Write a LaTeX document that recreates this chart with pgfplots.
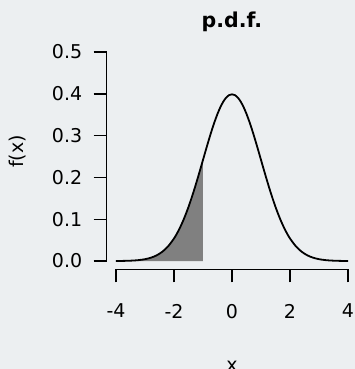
\documentclass[border=0pt]{standalone}
\usepackage{pgfplots}
\pgfplotsset{compat=1.18}
\usepackage{fontspec}
\setmainfont{DejaVu Sans}
\definecolor{bg}{HTML}{ECEFF1}
\begin{document}
\begin{tikzpicture}[x=1pt,y=1pt]
\fill[bg] (-5,-5) rectangle (359,374);
\begin{axis}[
  scale only axis, width=250.6pt, height=225.7pt,
  at={(106.7pt,99.6pt)}, anchor=south west,
  xmin=-4.32, xmax=4.32, ymin=-0.02, ymax=0.52,
  axis line style={draw=none},
  axis x line*=bottom, axis y line*=left,
  xtick={-4,-2,0,2,4}, ytick={0,0.1,0.2,0.3,0.4,0.5},
  yticklabel style={/pgf/number format/fixed,/pgf/number format/fixed zerofill,/pgf/number format/precision=1, anchor=east, xshift=-8pt},
  xticklabel style={yshift=-18pt},
  tick align=outside, major tick length=13pt,
  tick style={line width=1.4pt, black},
  /pgf/number format/assume math mode=true,
  ticklabel style={font=\fontsize{19}{22}\selectfont},
  label style={font=\fontsize{19}{22}\selectfont},
  title={p.d.f.},
  title style={font=\fontsize{20.5}{24}\selectfont\bfseries, at={(axis description cs:0.5,1.071)}, anchor=center},
  xlabel={x}, xlabel style={at={(axis description cs:0.5,-0.428)}, anchor=center},
  ylabel={f(x)}, ylabel style={at={(axis description cs:-0.356,0.522)}, anchor=center},
  clip=false,
]
\addplot[fill=black!50, draw=none, smooth] coordinates {
(-4,0.000134) (-3.8,0.000292) (-3.6,0.000612) (-3.4,0.001232) (-3.2,0.002384)
(-3,0.004432) (-2.8,0.007915) (-2.6,0.013583) (-2.4,0.022395) (-2.2,0.035475)
(-2,0.053991) (-1.9,0.065616) (-1.8,0.078950) (-1.7,0.094049) (-1.6,0.110921)
(-1.5,0.129518) (-1.4,0.149727) (-1.3,0.171369) (-1.2,0.194186) (-1.1,0.217852)
(-1,0.241971)} \closedcycle;
\addplot[black, line width=1.8pt, smooth] coordinates {
(-4,0.000134) (-3.8,0.000292) (-3.6,0.000612) (-3.4,0.001232) (-3.2,0.002384)
(-3,0.004432) (-2.8,0.007915) (-2.6,0.013583) (-2.4,0.022395) (-2.2,0.035475)
(-2,0.053991) (-1.9,0.065616) (-1.8,0.078950) (-1.7,0.094049) (-1.6,0.110921)
(-1.5,0.129518) (-1.4,0.149727) (-1.3,0.171369) (-1.2,0.194186) (-1.1,0.217852)
(-1,0.241971) (-0.9,0.266085) (-0.8,0.289692) (-0.7,0.312254) (-0.6,0.333225)
(-0.5,0.352065) (-0.4,0.368270) (-0.3,0.381388) (-0.2,0.391043) (-0.1,0.396953)
(0,0.398942)
(0.1,0.396953) (0.2,0.391043) (0.3,0.381388) (0.4,0.368270) (0.5,0.352065)
(0.6,0.333225) (0.7,0.312254) (0.8,0.289692) (0.9,0.266085) (1,0.241971)
(1.1,0.217852) (1.2,0.194186) (1.3,0.171369) (1.4,0.149727) (1.5,0.129518)
(1.6,0.110921) (1.7,0.094049) (1.8,0.078950) (1.9,0.065616) (2,0.053991)
(2.2,0.035475) (2.4,0.022395) (2.6,0.013583) (2.8,0.007915) (3,0.004432)
(3.2,0.002384) (3.4,0.001232) (3.6,0.000612) (3.8,0.000292) (4,0.000134)};
\draw[line width=1.4pt] (axis cs:-4,-0.02) -- (axis cs:4,-0.02);
\draw[line width=1.4pt] (axis cs:-4.32,0) -- (axis cs:-4.32,0.5);
\end{axis}
\pgfresetboundingbox
\useasboundingbox (0,0) rectangle (354,369);
\end{tikzpicture}
\end{document}
